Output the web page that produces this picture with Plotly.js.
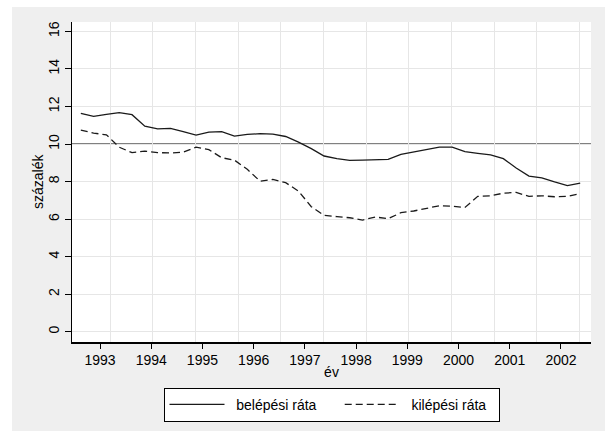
<!DOCTYPE html>
<html>
<head>
<meta charset="utf-8">
<script src="https://cdn.plot.ly/plotly-3.0.1.min.js"></script>
<style>
  html, body { margin: 0; padding: 0; background: #ffffff; width: 605px; height: 431px; overflow: hidden; }
  #chart { position: absolute; left: 12px; top: 7px; width: 593px; height: 424px; }
</style>
</head>
<body>
<div id="chart"></div>
<script>
// Quarterly observations, 1992 Q3 – 2002 Q2 (decimal year at quarter centre)
const quarters = [
  1992.625, 1992.875,
  1993.125, 1993.375, 1993.625, 1993.875,
  1994.125, 1994.375, 1994.625, 1994.875,
  1995.125, 1995.375, 1995.625, 1995.875,
  1996.125, 1996.375, 1996.625, 1996.875,
  1997.125, 1997.375, 1997.625, 1997.875,
  1998.125, 1998.375, 1998.625, 1998.875,
  1999.125, 1999.375, 1999.625, 1999.875,
  2000.125, 2000.375, 2000.625, 2000.875,
  2001.125, 2001.375, 2001.625, 2001.875,
  2002.125, 2002.375
];

const belepesi = [
  11.63, 11.47, 11.58, 11.67, 11.56, 10.95, 10.81, 10.83, 10.66, 10.47,
  10.63, 10.66, 10.42, 10.51, 10.55, 10.53, 10.40, 10.10, 9.75, 9.36,
  9.22, 9.13, 9.14, 9.15, 9.18, 9.45, 9.59, 9.72, 9.83, 9.83,
  9.59, 9.50, 9.42, 9.22, 8.72, 8.29, 8.20, 7.98, 7.78, 7.92
];

const kilepesi = [
  10.74, 10.58, 10.49, 9.83, 9.54, 9.62, 9.54, 9.52, 9.57, 9.83,
  9.70, 9.27, 9.14, 8.65, 8.02, 8.11, 7.94, 7.49, 6.66, 6.20,
  6.13, 6.07, 5.95, 6.11, 6.02, 6.34, 6.43, 6.57, 6.71, 6.68,
  6.62, 7.21, 7.24, 7.38, 7.42, 7.21, 7.24, 7.19, 7.21, 7.35
];

const yearTicks = [1993, 1994, 1995, 1996, 1997, 1998, 1999, 2000, 2001, 2002];
// vertical grid lines of the original chart (every 10 months)
const gridPositions = [1993.20, 1994.03, 1994.87, 1995.70, 1996.53, 1997.37,
                       1998.20, 1999.03, 1999.87, 2000.70, 2001.53, 2002.37];
const yTicks = [0, 2, 4, 6, 8, 10, 12, 14, 16];
const refLine = 10;

const seriesNames = ["belépési ráta", "kilépési ráta"];
const xTitle = "év";
const yTitle = "százalék";

const font = "Liberation Sans, Arial, Helvetica, sans-serif";
const xRange = [1992.453, 2002.586];
const yRange = [-0.549, 16.5];
const lead = "\u00a0\u2009";

const traces = [
  {
    x: [], y: [], xaxis: "x2", yaxis: "y", type: "scatter", mode: "lines",
    showlegend: false, hoverinfo: "skip"
  },
  {
    x: quarters, y: belepesi, type: "scatter", mode: "lines",
    name: lead + seriesNames[0] + "\u00a0\u00a0\u00a0\u00a0\u2009",
    line: { color: "#1a1a1a", width: 1.3 }
  },
  {
    x: quarters, y: kilepesi, type: "scatter", mode: "lines",
    name: lead + seriesNames[1] + "\u00a0\u2009",
    line: { color: "#1a1a1a", width: 1.3, dash: "7px,4px" }
  }
];

const layout = {
  width: 593, height: 424,
  margin: { l: 60, r: 14, t: 15, b: 89 },
  paper_bgcolor: "#efefef",
  plot_bgcolor: "#ffffff",
  font: { family: font, size: 14, color: "#000000" },
  showlegend: true,
  legend: {
    orientation: "h",
    xref: "paper", x: 0.5, xanchor: "center",
    yref: "container", y: 0.1021, yanchor: "top",
    bgcolor: "#ffffff",
    bordercolor: "#000000",
    borderwidth: 1,
    font: { family: font, size: 14, color: "#000000" },
    itemwidth: 55,
    tracegroupgap: 0
  },
  xaxis: {
    range: xRange,
    automargin: false,
    tickmode: "array",
    tickvals: yearTicks,
    ticktext: yearTicks.map(String),
    showgrid: false,
    zeroline: false,
    showline: true, linecolor: "#000000", linewidth: 1.5,
    ticks: "outside", ticklen: 5, tickcolor: "#000000", tickwidth: 1,
    tickfont: { family: font, size: 14 },
    title: { text: xTitle, font: { family: font, size: 14 }, standoff: 0 }
  },
  xaxis2: {
    overlaying: "x", anchor: "y", side: "bottom",
    automargin: false,
    range: xRange,
    tickmode: "array",
    tickvals: gridPositions,
    showticklabels: false,
    ticks: "",
    showgrid: true, gridcolor: "#e6e6e6", gridwidth: 1,
    zeroline: false, showline: false
  },
  yaxis: {
    range: yRange,
    automargin: false,
    tickmode: "array",
    tickvals: yTicks,
    ticktext: yTicks.map(String),
    tickangle: -90,
    showgrid: true, gridcolor: "#e6e6e6", gridwidth: 1,
    zeroline: false,
    showline: true, linecolor: "#000000", linewidth: 1.5,
    ticks: "outside", ticklen: 6, tickcolor: "#000000", tickwidth: 1,
    tickfont: { family: font, size: 14 }
  },
  annotations: [
    {
      text: yTitle, xref: "paper", yref: "paper",
      x: -0.0655, y: 0.5, xanchor: "center", yanchor: "middle",
      textangle: -90, showarrow: false,
      font: { family: font, size: 14, color: "#000000" }
    }
  ],
  shapes: [
    {
      type: "line", xref: "paper", yref: "y",
      x0: 0, x1: 1, y0: refLine, y1: refLine,
      line: { color: "#808080", width: 2 },
      layer: "between"
    }
  ]
};

Plotly.newPlot("chart", traces, layout, { displayModeBar: false, staticPlot: true });
</script>
</body>
</html>
